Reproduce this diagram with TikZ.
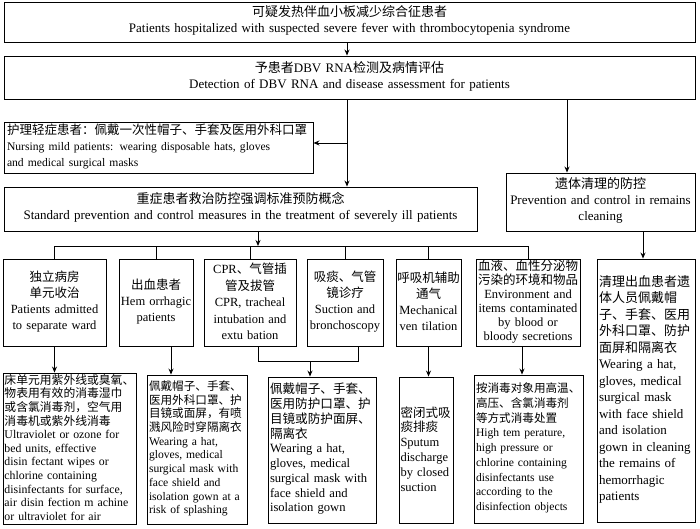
\documentclass[tikz,border=0pt]{standalone}
\usepackage{fontspec}
\setmainfont{Liberation Serif}
\newfontfamily\cjk{Noto Sans CJK SC}
% Chinese runs: keep their tall glyph boxes out of the line spacing
\newcommand\zh[1]{\smash{\cjk #1}\vphantom{Ay}}
\usetikzlibrary{arrows.meta}

\begin{document}
\begin{tikzpicture}[
  x=1pt, y=-1pt,
  box/.style={rectangle, draw, line width=0.9pt, inner xsep=2pt, inner ysep=0pt,
              align=center},
  lbox/.style={box, align=left},
  head/.style={font=\fontsize{13}{16}\selectfont},
  cell/.style={box, inner xsep=1pt, minimum height=87pt,
               font=\fontsize{12.5}{16}\selectfont},
  arr/.style={-{Stealth[length=6pt, width=5pt]}, line width=0.9pt},
  link/.style={line width=0.9pt}
]
\useasboundingbox (0,0) rectangle (700,529);

% top of the chart
\node[box, head, text width=687pt, minimum height=40pt] (fever) at (349.5,22)
  {\zh{可疑发热伴血小板减少综合征患者}\\
   Patients hospitalized with suspected severe fever with thrombocytopenia syndrome};
\node[box, head, text width=687pt, minimum height=43pt] (detect) at (349.5,77.5)
  {\zh{予患者}DBV RNA\zh{检测及病情评估}\\
   Detection of DBV RNA and disease assessment for patients};
\node[lbox, inner xsep=3pt, text width=303pt, minimum height=51pt,
      font=\fontsize{12.5}{16}\selectfont] (mild) at (158.5,147.5)
  {\zh{护理轻症患者：佩戴一次性帽子、手套及医用外科口罩}\\
   {\fontsize{11.6}{16}\selectfont Nursing mild patients: wearing disposable hats, gloves}\\
   {\fontsize{11.6}{16}\selectfont and medical surgical masks}};
\node[box, head, text width=469pt, minimum height=44pt] (severe) at (240.5,209)
  {\zh{重症患者救治防控强调标准预防概念}\\
   Standard prevention and control measures in the treatment of severely ill patients};
\node[box, head, text width=185pt, minimum height=58pt] (remains) at (600.5,202)
  {\zh{遗体清理的防控}\\Prevention and control in remains\\cleaning};

% second row
\node[cell, text width=101pt] (ward) at (54.5,302.5)
  {\zh{独立病房}\\\zh{单元收治}\\Patients admitted\\to separate ward};
\node[cell, text width=72pt] (hem) at (156,302.5)
  {\zh{出血患者}\\Hem orrhagic\\patients};
\node[cell, text width=90pt, font=\fontsize{12.5}{16.5}\selectfont] (cpr) at (250,302.5)
  {CPR\zh{、气管插}\\\zh{管及拔管}\\CPR, tracheal\\intubation and\\extu bation};
\node[cell, text width=74pt] (suct) at (345,302.5)
  {\zh{吸痰、气管}\\\zh{镜诊疗}\\Suction and\\bronchoscopy};
\node[cell, text width=63pt] (vent) at (428.5,302.5)
  {\zh{呼吸机辅助}\\\zh{通气}\\Mechanical\\ven tilation};
\node[cell, text width=102pt, font=\fontsize{12.5}{14}\selectfont] (env) at (528,302.5)
  {\zh{血液、血性分泌物}\\\zh{污染的环境和物品}\\Environment and\\items contaminated\\by blood or\\bloody secretions};

% third row
\node[lbox, inner xsep=1.5pt, text width=130pt, minimum height=151pt,
      font=\fontsize{11.8}{13.6}\selectfont] (air) at (69.5,448.5)
  {\zh{床单元用紫外线或臭氧、}\\\zh{物表用有效的消毒湿巾}\\\zh{或含氯消毒剂，空气用}\\\zh{消毒机或紫外线消毒}\\
   Ultraviolet or ozone for\\bed units, effective\\disin fectant wipes or\\chlorine containing\\
   disinfectants for surface,\\air disin fection m achine\\or ultraviolet for air};
\node[lbox, text width=96pt, minimum height=149pt,
      font=\fontsize{11.6}{13.7}\selectfont] (splash) at (197,449.5)
  {\zh{佩戴帽子、手套、}\\\zh{医用外科口罩、护}\\\zh{目镜或面屏，有喷}\\\zh{溅风险时穿隔离衣}\\
   Wearing a hat,\\gloves, medical\\surgical mask with\\face shield and\\isolation gown at a\\risk of splashing};
\node[lbox, text width=104pt, minimum height=146pt,
      font=\fontsize{12.6}{14.75}\selectfont] (gown) at (322,450)
  {\zh{佩戴帽子、手套、}\\\zh{医用防护口罩、护}\\\zh{目镜或防护面屏、}\\\zh{隔离衣}\\
   Wearing a hat,\\gloves, medical\\surgical mask with\\face shield and\\isolation gown};
\node[lbox, inner xsep=1.5pt, text width=51pt, minimum height=146pt,
      font=\fontsize{12.5}{14.8}\selectfont] (sputum) at (426,450)
  {\zh{密闭式吸}\\\zh{痰排痰}\\Sputum\\discharge\\by closed\\suction};
\node[lbox, text width=105pt, minimum height=148pt,
      font=\fontsize{11.6}{14.75}\selectfont] (disinf) at (528.5,449)
  {\zh{按消毒对象用高温、}\\\zh{高压、含氯消毒剂}\\\zh{等方式消毒处置}\\
   High tem perature,\\high pressure or\\chlorine containing\\disinfectants use\\according to the\\disinfection objects};
\node[lbox, text width=94pt, minimum height=263pt,
      font=\fontsize{13}{16.5}\selectfont] (body) at (646,390.5)
  {\zh{清理出血患者遗}\\\zh{体人员佩戴帽}\\\zh{子、手套、医用}\\\zh{外科口罩、防护}\\\zh{面屏和隔离衣}\\
   Wearing a hat,\\gloves, medical\\surgical mask\\with face shield\\and isolation\\gown in cleaning\\
   the remains of\\hemorrhagic\\patients};

% connectors
\coordinate (mainx) at (347,0);
\coordinate (rightx) at (567,0);
\coordinate (mildjoin) at (347,143);
\coordinate (bus) at (258,246);
\coordinate (merge) at (310,361);

\draw[arr] (fever.south -| mainx) -- (detect.north -| mainx);
\draw[arr] (detect.south -| mainx) -- (severe.north -| mainx);
\draw[arr] (mildjoin) -- (mildjoin -| mild.east);
\draw[arr] (detect.south -| rightx) -- (remains.north -| rightx);
\draw[arr] (severe.south -| bus) -- (bus);
\draw[link] (bus -| ward.north) -- (bus -| env.north);
\foreach \b in {ward, hem, cpr, suct, vent, env}
  \draw[link] (bus -| \b.north) -- (\b.north);

\draw[arr] (ward.south) -- (ward.south |- air.north);
\draw[arr] ([xshift=15pt]hem.south) -- ([xshift=15pt]hem.south |- splash.north);
\draw[link] ([xshift=8pt]cpr.south) -- ([xshift=8pt]cpr.south |- merge)
  -- ([xshift=13pt]suct.south |- merge) -- ([xshift=13pt]suct.south);
\draw[arr] (merge) -- (merge |- gown.north);
\draw[arr] (vent.south) -- (vent.south |- sputum.north);
\draw[arr] ([xshift=-6pt]env.south) -- ([xshift=-6pt]env.south |- disinf.north);
\draw[arr] ([xshift=-3pt]body.north |- remains.south) -- ([xshift=-3pt]body.north);

\end{tikzpicture}
\end{document}
